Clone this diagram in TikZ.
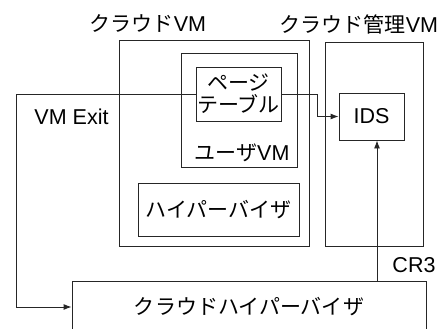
\documentclass[tikz,border=0pt]{standalone}
\usepackage{fontspec}
\setmainfont{Liberation Sans}
\newfontfamily\jp[Scale=0.977]{Noto Sans CJK JP}
\usetikzlibrary{arrows.meta}
\tikzset{
  box/.style={draw=black!85, line width=0.9pt, rectangle, inner sep=0pt},
  lbl/.style={inner sep=0pt, font=\fontsize{21.5}{22}\selectfont},
  conn/.style={draw=black!85, line width=0.9pt},
  arr/.style={conn, -{Latex[length=8pt,width=6pt]}},
}
\begin{document}
\begin{tikzpicture}[x=1pt,y=-1pt]
\useasboundingbox (0,0) rectangle (439,329);
\clip (0,0) rectangle (439,329);
% boxes
\node[box, minimum width=190pt, minimum height=206pt] (cloudvm) at (214.5,143) {};
\node[box, minimum width=97.5pt, minimum height=204pt] (mgmt) at (374.25,144) {};
\node[box, minimum width=116pt, minimum height=114pt] (uservm) at (239,110) {};
\node[box, lbl, minimum width=85pt, minimum height=54pt, align=center] (pt) at (238.5,94) {{\jp ページ}\\[0pt]{\jp テーブル}};
\node[box, lbl, minimum width=161pt, minimum height=53pt] (hv) at (218.5,209.5) {\jp ハイパーバイザ};
\node[box, lbl, minimum width=65pt, minimum height=47pt] (ids) at (371.5,116.5) {IDS};
\node[box, lbl, minimum width=354pt, minimum height=52pt] (chv) at (249,307) {\jp クラウドハイパーバイザ};
% labels
\node[lbl] (cloudvmlbl) at (148,23) {{\jp クラウド}VM};
\node[lbl] (mgmtlbl) at (359,24) {{\jp クラウド管理}VM};
\node[lbl] (uservmlbl) at (242,153) {{\jp ユーザ}VM};
\node[lbl] (exitlbl) at (71.5,117) {VM Exit};
\node[lbl] (cr3lbl) at (414,265.5) {CR3};
% connectors
\coordinate (exitc) at (16,94);
\draw[arr] (pt.west) -- (exitc) |- (chv.west);
\coordinate (bendc) at (317,94);
\draw[arr] (pt.east) -- (bendc) |- (ids.west);
\coordinate (cr3s) at (377,281);
\draw[arr] (cr3s) -- (cr3s |- ids.south);
\end{tikzpicture}
\end{document}
